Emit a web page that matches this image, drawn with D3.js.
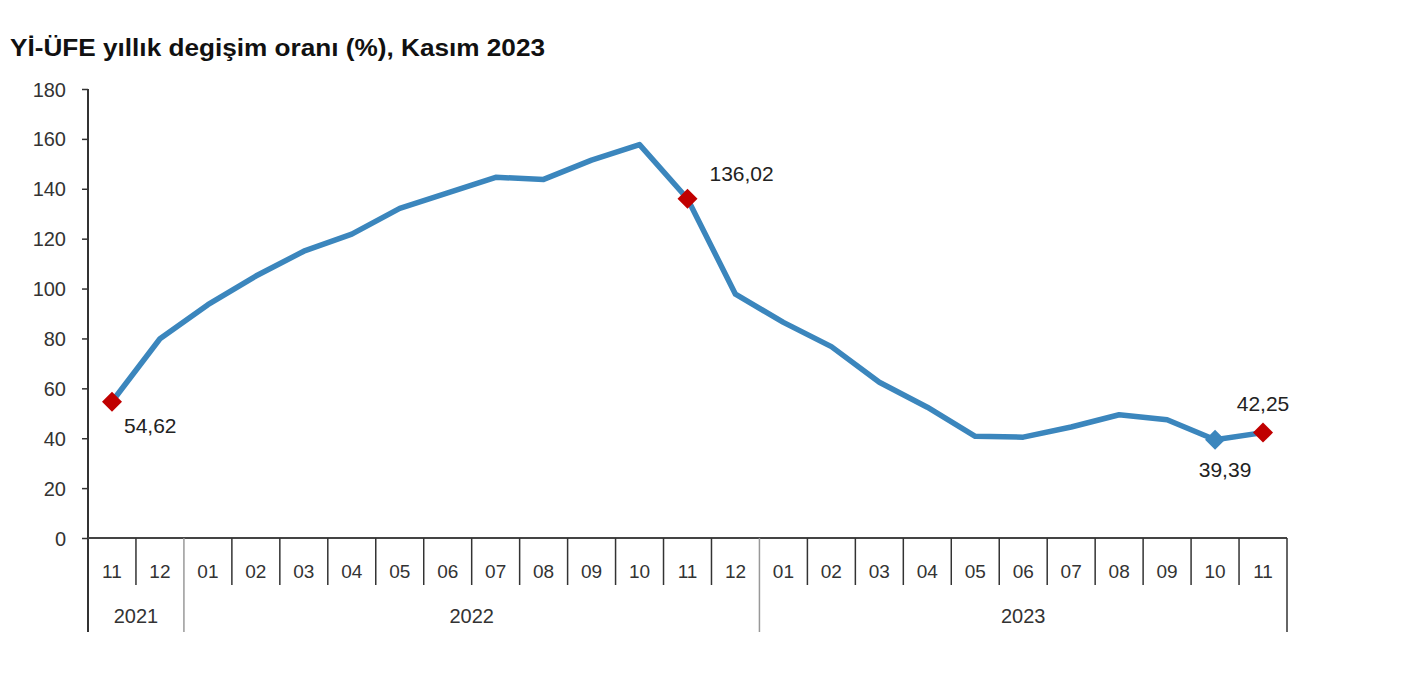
<!DOCTYPE html>
<html><head><meta charset="utf-8">
<script src="https://cdn.jsdelivr.net/npm/d3@7"></script>
<style>
html,body{margin:0;padding:0;background:#fff;}
text{font-family:"Liberation Sans",Arial,sans-serif;}
</style></head>
<body>
<svg id="c" width="1411" height="675"></svg>
<script>
const titleText = "Yİ-ÜFE yıllık degişim oranı (%), Kasım 2023";
const months = ["11","12","01","02","03","04","05","06","07","08","09","10","11","12","01","02","03","04","05","06","07","08","09","10","11"];
const years = ["2021","2021","2022","2022","2022","2022","2022","2022","2022","2022","2022","2022","2022","2022","2023","2023","2023","2023","2023","2023","2023","2023","2023","2023","2023"];
const values = [54.62,79.89,93.53,105.01,114.97,121.82,132.16,138.31,144.61,143.75,151.50,157.69,136.02,97.72,86.46,76.71,62.45,52.44,40.76,40.42,44.50,49.41,47.44,39.39,42.25];
const yTicks = [0,20,40,60,80,100,120,140,160,180];
const highlighted = [0,12,24];
const blueMarker = [23];
const labelTexts = ["54,62","136,02","39,39","42,25"];
const labelIdx = [0,12,23,24];

const svg = d3.select("#c");
const L = 88, R = 1287, T = 89, B = 538;
const idx = d3.range(values.length);
const x = d3.scaleBand().domain(idx).range([L, R]).padding(0);
const y = d3.scaleLinear().domain([0,180]).range([B, T]);
const cx = i => x(i) + x.bandwidth()/2;

svg.append("text").attr("x",10).attr("y",56).attr("font-size",23).attr("font-weight","bold")
  .attr("fill","#111").attr("textLength",535).attr("lengthAdjust","spacingAndGlyphs").text(titleText);

// y axis
const yAxis = d3.axisLeft(y).tickValues(yTicks).tickSize(6).tickSizeOuter(0).tickFormat(d3.format("d"));
const gy = svg.append("g").attr("transform",`translate(${L},0)`).call(yAxis);
gy.select(".domain").remove();
gy.selectAll(".tick line").attr("stroke","#333").attr("stroke-width",1.5);
gy.selectAll(".tick text").attr("font-size",20).attr("fill","#333").attr("x",-22).attr("dy","0.35em");
svg.append("line").attr("x1",L).attr("x2",L).attr("y1",T).attr("y2",632).attr("stroke","#333").attr("stroke-width",2);

// x axis baseline
svg.append("line").attr("x1",L).attr("x2",R).attr("y1",B).attr("y2",B).attr("stroke","#444").attr("stroke-width",2);

// month dividers & labels
idx.forEach(i => {
  if (i === 0) return;
  const isYear = years[i] !== years[i-1];
  svg.append("line").attr("x1",x(i)).attr("x2",x(i)).attr("y1",B).attr("y2",isYear?632:585)
    .attr("stroke", isYear ? "#999" : "#333").attr("stroke-width",1.5);
});
svg.append("line").attr("x1",R).attr("x2",R).attr("y1",B).attr("y2",632).attr("stroke","#333").attr("stroke-width",1.5);
svg.append("g").selectAll("text").data(idx).join("text")
  .attr("x", i => cx(i)).attr("y", 578).attr("text-anchor","middle").attr("font-size",19).attr("fill","#333")
  .text(i => months[i]);
// year labels
const yearGroups = d3.groups(idx, i => years[i]);
yearGroups.forEach(([yr, arr]) => {
  const x0 = x(arr[0]), x1 = x(arr[arr.length-1]) + x.bandwidth();
  svg.append("text").attr("x",(x0+x1)/2).attr("y",623).attr("text-anchor","middle").attr("font-size",20)
    .attr("fill","#333").text(yr);
});

// line
const line = d3.line().x(i => cx(i)).y(i => y(values[i]));
svg.append("path").datum(idx).attr("d",line).attr("fill","none").attr("stroke","#3b86bd")
  .attr("stroke-width",5.5).attr("stroke-linejoin","round");

// markers
const sym = d3.symbol().type(d3.symbolSquare).size(200);
svg.append("g").selectAll("path").data(blueMarker).join("path")
  .attr("d",sym).attr("transform",i=>`translate(${cx(i)},${y(values[i])}) rotate(45)`).attr("fill","#3b86bd");
svg.append("g").selectAll("path").data(highlighted).join("path")
  .attr("d",sym).attr("transform",i=>`translate(${cx(i)},${y(values[i])}) rotate(45)`).attr("fill","#c00000");

// labels
const offsets = [[12,31,"start"],[22,-18,"start"],[10,37,"middle"],[0,-22,"middle"]];
labelIdx.forEach((i,k) => {
  svg.append("text").attr("x", cx(i)+offsets[k][0]).attr("y", y(values[i])+offsets[k][1])
    .attr("text-anchor",offsets[k][2]).attr("font-size",21).attr("fill","#222").text(labelTexts[k]);
});
</script>
</body></html>
